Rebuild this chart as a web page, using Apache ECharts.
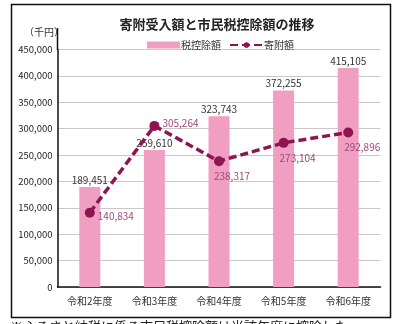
<!DOCTYPE html>
<html><head><meta charset="utf-8">
<script src="https://cdn.jsdelivr.net/npm/echarts@6/dist/echarts.min.js"></script>
<style>html,body{margin:0;padding:0;background:#fff}#c{width:398px;height:324px}</style>
</head><body><div id="c"></div>
<script>
var categories = ['令和2年度','令和3年度','令和4年度','令和5年度','令和6年度'];
var deductionValues = [189451, 259610, 323743, 372255, 415105];
var donationValues = [140834, 305264, 238317, 273104, 292896];
var yTicks = [0, 450000, 50000];
var titleText = '寄附受入額と市民税控除額の推移';
var unitText = '（千円）';
var noteText = '※ふるさと納税に係る市民税控除額は当該年度に控除した';

var FONT = '"Noto Sans CJK JP", "Noto Sans", sans-serif';
var lineLabelPos = [
  {position: 'right', offset: [-2, 4]},
  {position: 'right', offset: [-2, -3]},
  {position: 'bottom', offset: [13, 0]},
  {position: 'bottom', offset: [14, 0]},
  {position: 'bottom', offset: [14, 0]}
];
var donationData = donationValues.map(function (v, i) {
  return {value: v, label: lineLabelPos[i]};
});

var chart = echarts.init(document.getElementById('c'), null, {renderer: 'canvas'});
chart.setOption({
  animation: false,
  textStyle: {fontFamily: FONT},
  title: {
    text: titleText, left: 212, top: 13, textAlign: 'center',
    textStyle: {fontSize: 13, fontWeight: 'bold', color: '#222', fontFamily: FONT}
  },
  legend: {
    top: 35, left: 142, itemGap: 8, itemWidth: 33, itemHeight: 7,
    textStyle: {fontSize: 10, color: '#333', fontFamily: FONT, padding: [0, 0, 0, -4]},
    data: [
      {name: '税控除額', icon: 'rect'},
      {name: '寄附額'}
    ]
  },
  grid: {left: 57.5, right: 17.5, top: 49.5, bottom: 37, containLabel: false},
  xAxis: {
    type: 'category', data: categories,
    axisLine: {lineStyle: {color: '#111', width: 1.5}},
    axisTick: {show: false},
    axisLabel: {fontSize: 10, color: '#333', margin: 9, fontFamily: FONT}
  },
  yAxis: {
    type: 'value', min: yTicks[0], max: yTicks[1], interval: yTicks[2],
    axisLine: {show: true, lineStyle: {color: '#111', width: 1.5}},
    axisTick: {show: false},
    axisLabel: {fontSize: 9.5, color: '#222', margin: 5, fontFamily: FONT,
      formatter: function (v) { return v.toLocaleString('en-US'); }},
    splitLine: {lineStyle: {color: '#c8c8c8', width: 1}}
  },
  series: [
    {
      name: '税控除額', type: 'bar', data: deductionValues, barWidth: 21,
      itemStyle: {color: '#f09fc3'},
      label: {show: true, position: 'top', distance: 2, fontSize: 10, color: '#333', fontFamily: FONT,
        formatter: function (p) { return p.value.toLocaleString('en-US'); }},
      z: 2
    },
    {
      name: '寄附額', type: 'line', data: donationData,
      symbol: 'circle', symbolSize: 10,
      lineStyle: {color: '#8c1552', width: 3.5, type: [8, 4]},
      itemStyle: {color: '#8c1552'},
      label: {show: true, fontSize: 10, color: '#9a4a7a', fontFamily: FONT,
        formatter: function (p) { return p.value.toLocaleString('en-US'); }},
      z: 3
    }
  ],
  graphic: [
    {type: 'rect', shape: {x: 11.5, y: 4.5, width: 379, height: 313},
      style: {fill: null, stroke: '#111', lineWidth: 1.5}, silent: true, z: 0},
    {type: 'line', shape: {x1: 57.5, y1: 28, x2: 57.5, y2: 50},
      style: {stroke: '#111', lineWidth: 1.5}, silent: true},
    {type: 'text', left: 24, top: 27,
      style: {text: unitText, fontSize: 10, fill: '#333', fontFamily: FONT}},
    {type: 'text', left: 10, top: 320,
      style: {text: noteText, fontSize: 13, fill: '#222', fontFamily: FONT}}
  ]
});
</script></body></html>
